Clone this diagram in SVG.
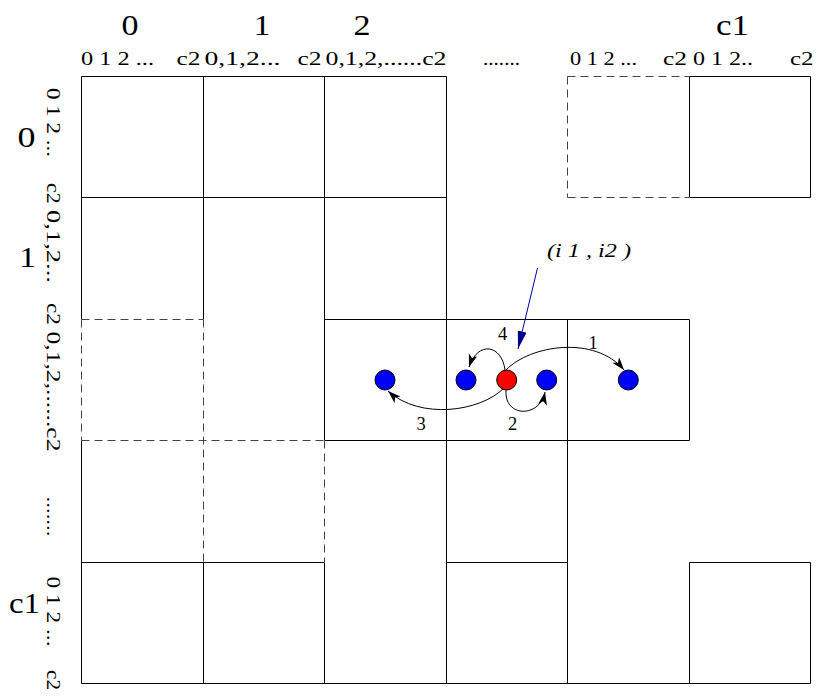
<svg xmlns="http://www.w3.org/2000/svg" width="826" height="698" viewBox="0 0 826 698">
<style>
text{font-family:"Liberation Serif","Times New Roman",serif;fill:#000}
.big{font-size:30px}
.sm{font-size:18.5px}
.lbl{font-size:18.5px;text-anchor:middle}
.solid{fill:none;stroke:#000;stroke-width:1}
.dash{fill:none;stroke:#444;stroke-width:1;stroke-dasharray:8 5}
.arc{fill:none;stroke:#000;stroke-width:1}
.blue{fill:#0000ff;stroke:#000;stroke-width:1}
.red{fill:#ff0000;stroke:#000;stroke-width:1}
</style>
<defs>
<marker id="ah" markerUnits="userSpaceOnUse" markerWidth="14" markerHeight="10" refX="13" refY="4.5" orient="auto">
<path d="M0,0 L13,4.5 L0,9 L3.5,4.5 z" fill="#000"/>
</marker>
<marker id="ahb" markerUnits="userSpaceOnUse" markerWidth="19" markerHeight="10" refX="18" refY="4.5" orient="auto">
<path d="M0,0 L18,4.5 L0,9 z" fill="#00008b"/>
</marker>
</defs>
<rect width="826" height="698" fill="#fff"/>
<g id="grid">
<path class="solid" d="M81.5 76.5H446.5M689.5 76.5H810.5M81.5 197.5H446.5M689.5 197.5H810.5M324.5 319.5H689.5M324.5 440.5H689.5M81.5 562.5H324.5M446.5 562.5H567.5M689.5 562.5H810.5M81.5 683.5H810.5M81.5 76.5V319.5M81.5 440.5V683.5M203.5 76.5V319.5M203.5 562.5V683.5M324.5 76.5V440.5M324.5 562.5V683.5M446.5 76.5V683.5M567.5 319.5V683.5M689.5 76.5V197.5M689.5 319.5V440.5M689.5 562.5V683.5M810.5 76.5V197.5M810.5 562.5V683.5"/>
<path class="dash" d="M81.5 319.5H203.5M81.5 319.5V440.5M203.5 319.5V562.5M81.5 440.5H324.5M324.5 440.5V562.5M567.5 76.5H689.5M567.5 197.5H689.5M567.5 76.5V197.5"/>
</g>
<g id="col-headers">
<text class="big" x="121.5" y="35" textLength="17" lengthAdjust="spacingAndGlyphs">0</text>
<text class="big" x="253.5" y="35" textLength="17" lengthAdjust="spacingAndGlyphs">1</text>
<text class="big" x="353.5" y="35" textLength="17" lengthAdjust="spacingAndGlyphs">2</text>
<text class="big" x="716" y="35" textLength="33" lengthAdjust="spacingAndGlyphs">c1</text>
<text class="sm" x="81" y="65" textLength="73" lengthAdjust="spacingAndGlyphs">0 1 2 ...</text>
<text class="sm" x="176.5" y="65" textLength="24" lengthAdjust="spacingAndGlyphs">c2</text>
<text class="sm" x="204.5" y="65" textLength="76" lengthAdjust="spacingAndGlyphs">0,1,2...</text>
<text class="sm" x="297.5" y="65" textLength="24" lengthAdjust="spacingAndGlyphs">c2</text>
<text class="sm" x="325.5" y="65" textLength="121" lengthAdjust="spacingAndGlyphs">0,1,2,......c2</text>
<text class="sm" x="483" y="65" textLength="37" lengthAdjust="spacingAndGlyphs">.......</text>
<text class="sm" x="570" y="65" textLength="67" lengthAdjust="spacingAndGlyphs">0 1 2 ...</text>
<text class="sm" x="663" y="65" textLength="24" lengthAdjust="spacingAndGlyphs">c2</text>
<text class="sm" x="693" y="65" textLength="60" lengthAdjust="spacingAndGlyphs">0 1 2..</text>
<text class="sm" x="790" y="65" textLength="23.5" lengthAdjust="spacingAndGlyphs">c2</text>
</g>
<g id="row-headers">
<text class="big" x="17.5" y="146.5" textLength="18" lengthAdjust="spacingAndGlyphs">0</text>
<text class="big" x="19" y="267" textLength="17" lengthAdjust="spacingAndGlyphs">1</text>
<text class="big" x="9" y="613" textLength="31" lengthAdjust="spacingAndGlyphs">c1</text>
<text class="sm" transform="translate(46.5 88) rotate(90)" textLength="69" lengthAdjust="spacingAndGlyphs">0 1 2 ...</text>
<text class="sm" transform="translate(46.5 183) rotate(90)" textLength="20.5" lengthAdjust="spacingAndGlyphs">c2</text>
<text class="sm" transform="translate(46.5 210) rotate(90)" textLength="73" lengthAdjust="spacingAndGlyphs">0,1,2...</text>
<text class="sm" transform="translate(46.5 303) rotate(90)" textLength="22" lengthAdjust="spacingAndGlyphs">c2</text>
<text class="sm" transform="translate(46.5 331.5) rotate(90)" textLength="120" lengthAdjust="spacingAndGlyphs">0,1,2,......c2</text>
<text class="sm" transform="translate(46.5 496.5) rotate(90)" textLength="40" lengthAdjust="spacingAndGlyphs">.......</text>
<text class="sm" transform="translate(46.5 576.5) rotate(90)" textLength="70" lengthAdjust="spacingAndGlyphs">0 1 2 ...</text>
<text class="sm" transform="translate(46.5 670) rotate(90)" textLength="20" lengthAdjust="spacingAndGlyphs">c2</text>
</g>
<g id="connectors">
<path class="arc" d="M506 370 C530 345,595 335,624 370" marker-end="url(#ah)"/>
<path class="arc" d="M506 390 C504 418,540 418,545 392" marker-end="url(#ah)"/>
<path class="arc" d="M504 388 C480 412,420 420,388 391" marker-end="url(#ah)"/>
<path class="arc" d="M505 370 C502 345,478 340,469 367" marker-end="url(#ah)"/>
<line x1="537.5" y1="268" x2="518" y2="349" stroke="#0000aa" stroke-width="1" marker-end="url(#ahb)"/>
<text class="lbl" x="593" y="349">1</text>
<text class="lbl" x="512.5" y="430">2</text>
<text class="lbl" x="421" y="430">3</text>
<text class="lbl" x="502.5" y="340">4</text>
</g>
<g id="node-b1"><circle class="blue" cx="385" cy="380" r="10"/></g>
<g id="node-b2"><circle class="blue" cx="466" cy="380" r="10"/></g>
<g id="node-red"><circle class="red" cx="506.7" cy="380" r="10"/></g>
<g id="node-b3"><circle class="blue" cx="546.7" cy="380" r="10"/></g>
<g id="node-b4"><circle class="blue" cx="628.3" cy="380" r="10"/></g>
<g id="label-i1i2">
<text x="547" y="257" font-size="19" font-style="italic" textLength="84" lengthAdjust="spacingAndGlyphs">(i 1 , i2 )</text>
</g>
</svg>
